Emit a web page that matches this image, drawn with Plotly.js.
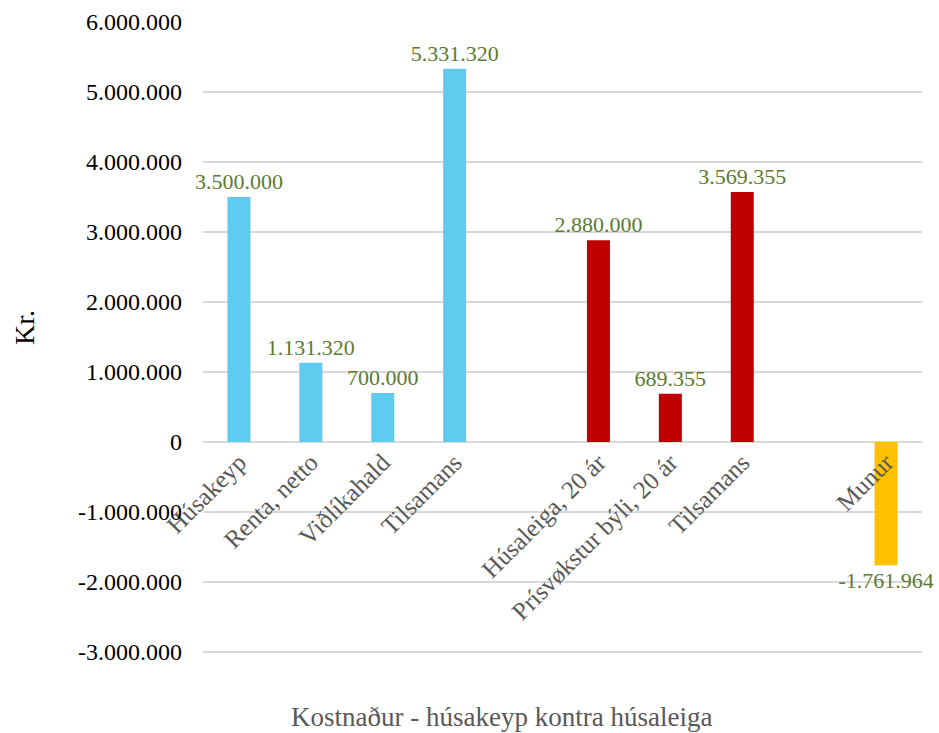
<!DOCTYPE html>
<html>
<head>
<meta charset="utf-8">
<script src="https://cdn.plot.ly/plotly-3.0.1.min.js"></script>
<style>html,body{margin:0;padding:0;background:#fff;}#chart{width:939px;height:733px;}</style>
</head>
<body>
<div id="chart"></div>
<script>
// Data
const categories = ["Húsakeyp", "Renta, netto", "Viðlíkahald", "Tilsamans", "", "Húsaleiga, 20 ár", "Prísvøkstur býli, 20 ár", "Tilsamans", "", "Munur"];
const values = [3500000, 1131320, 700000, 5331320, null, 2880000, 689355, 3569355, null, -1761964];
const groups = ["keyp", "keyp", "keyp", "keyp", null, "leiga", "leiga", "leiga", null, "munur"];
const yTicks = [-3000000, -2000000, -1000000, 0, 1000000, 2000000, 3000000, 4000000, 5000000, 6000000];
const xTitle = "Kostnaður - húsakeyp kontra húsaleiga";
const yTitle = "Kr.";

// Styles
const groupColors = { keyp: "#5ECBEF", leiga: "#C00000", munur: "#FFC000" };
const FONT = "Liberation Serif, Times New Roman, serif";

function fmt(v) {
  if (v === null || v === undefined) return "";
  const neg = v < 0;
  const s = Math.abs(Math.round(v)).toString().replace(/\B(?=(\d{3})+(?!\d))/g, ".");
  return (neg ? "-" : "") + s;
}

const idx = categories.map((_, i) => i);
const yMin = yTicks[0] - 30000;   // small pad so the bottom gridline is drawn
const yMax = yTicks[yTicks.length - 1];
const plotTop = 22, plotH = 632;

const trace = {
  type: "bar",
  x: idx,
  y: values,
  marker: { color: groups.map(g => g ? groupColors[g] : "rgba(0,0,0,0)") },
  text: values.map(fmt),
  textposition: "outside",
  textfont: { family: FONT, size: 22, color: "#5B7B2F" },
  cliponaxis: false,
  constraintext: "none",
  hoverinfo: "skip"
};

const layout = {
  width: 939,
  height: 733,
  margin: { l: 203, r: 17, t: plotTop, b: 733 - plotTop - plotH },
  paper_bgcolor: "#fff",
  plot_bgcolor: "#fff",
  showlegend: false,
  bargap: 0.68,
  font: { family: FONT },
  xaxis: {
    type: "linear",
    range: [-0.5, categories.length - 0.5],
    tickvals: idx,
    ticktext: categories,
    tickangle: -45,
    tickfont: { family: FONT, size: 25, color: "#595959" },
    anchor: "free",
    position: (0 - yMin) / (yMax - yMin),
    showgrid: false,
    zeroline: false,
    showline: false,
    ticks: "",
    fixedrange: true
  },
  yaxis: {
    range: [yMin, yMax],
    tickvals: yTicks,
    ticktext: yTicks.map(fmt),
    tickfont: { family: FONT, size: 24, color: "#000" },
    showgrid: true,
    gridcolor: "#D9D9D9",
    gridwidth: 1.5,
    zeroline: true,
    zerolinecolor: "#D9D9D9",
    zerolinewidth: 1.5,
    showline: false,
    ticks: "",
    ticklabelstandoff: 20,
    fixedrange: true
  },
  annotations: [
    {
      text: xTitle, xref: "paper", yref: "paper",
      x: (501 - 203) / 719, y: (plotTop + plotH - 717) / plotH,
      xanchor: "center", yanchor: "middle", showarrow: false,
      font: { family: FONT, size: 27, color: "#595959" }
    },
    {
      text: yTitle, xref: "paper", yref: "paper",
      x: (24 - 203) / 719, y: (plotTop + plotH - 328) / plotH,
      xanchor: "center", yanchor: "middle", showarrow: false, textangle: -90,
      font: { family: FONT, size: 28, color: "#000" }
    }
  ]
};

Plotly.newPlot("chart", [trace], layout, { displayModeBar: false, staticPlot: true });
</script>
</body>
</html>
